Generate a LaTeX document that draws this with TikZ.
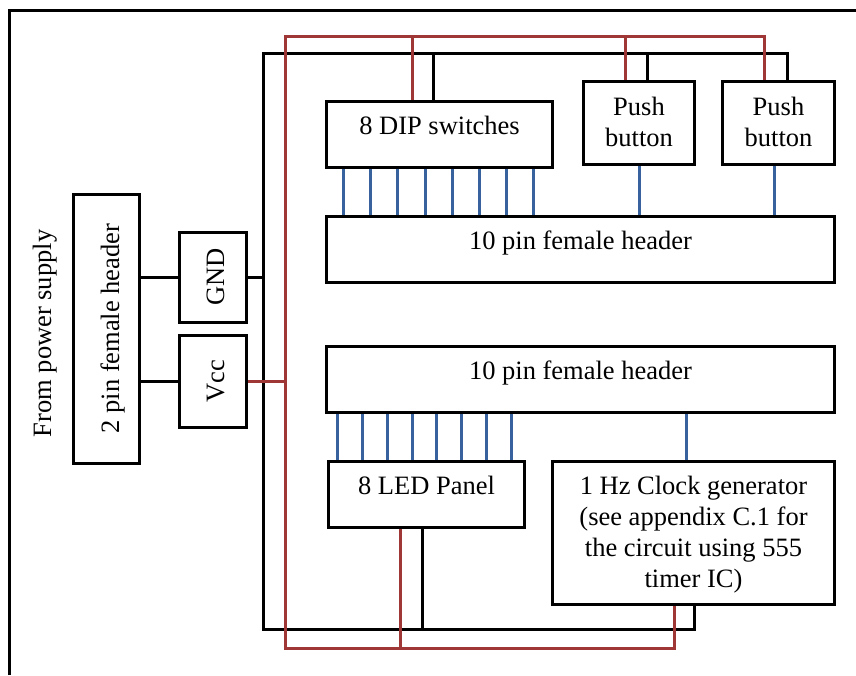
\documentclass[tikz,border=0pt]{standalone}
\usepackage{fontspec}
\setmainfont{Liberation Serif}
\definecolor{wirered}{RGB}{160,55,55}
\definecolor{wireblue}{RGB}{55,98,158}
\newcommand{\mlines}[1]{\begin{tabular}[t]{@{}c@{}}#1\end{tabular}}
\tikzset{
  blk/.style={line width=3pt, black},
  rw/.style={line width=3pt, wirered},
  pin/.style={line width=3pt, wireblue},
  box/.style={draw, line width=3pt, inner sep=0pt, fill=white, font=\fontsize{26.5}{31}\selectfont},
  lbl/.style={inner sep=0pt, font=\fontsize{26.5}{31}\selectfont},
}
\begin{document}
\begin{tikzpicture}[x=1pt,y=-1pt]
\useasboundingbox (0,0) rectangle (856,675);
% outer frame
\draw[line width=3pt] (9,675) -- (9,10) -- (856,10);

% left side
\node[lbl, rotate=90, anchor=base] (fps) at (51,333.5) {From power supply};
\node[box, rotate=90, minimum width=269pt, text height=46pt, text depth=20pt] (hdr) at (106,328.5) {2 pin female header};
\node[box, rotate=90, minimum width=90pt, text height=45pt, text depth=22pt] (gnd) at (212.5,277) {GND};
\node[box, rotate=90, minimum width=92pt, text height=45pt, text depth=22pt] (vcc) at (212.5,381) {Vcc};

% right side boxes
\node[box, anchor=north west, minimum width=226pt, text height=33pt, text depth=33pt] (dip) at (325,100) {8 DIP switches};
\node[box, anchor=north west, minimum width=111pt, text height=33.5pt, text depth=49.5pt] (pbA) at (582,80) {\mlines{Push\\button}};
\node[box, anchor=north west, minimum width=112pt, text height=33.5pt, text depth=49.5pt] (pbB) at (721,80) {\mlines{Push\\button}};
\node[box, anchor=north west, minimum width=508pt, text height=33pt, text depth=33pt] (hdrA) at (325,215) {10 pin female header};
\node[box, anchor=north west, minimum width=508pt, text height=33pt, text depth=33pt] (hdrB) at (325,345) {10 pin female header};
\node[box, anchor=north west, minimum width=196pt, text height=33pt, text depth=33pt] (led) at (327,460) {8 LED Panel};
\node[box, anchor=north west, minimum width=282pt, text height=33pt, text depth=110pt] (clk) at (551,460) {\mlines{1 Hz Clock generator\\(see appendix C.1 for\\the circuit using 555\\timer IC)}};

% bus coordinates
\coordinate (bTop) at (263,53);
\coordinate (bBot) at (263,629);
\coordinate (rTop) at (285,36);
\coordinate (rBot) at (285,648);

% attach points
\coordinate (kDip) at ([xshift=108pt]dip.north west);
\coordinate (kA) at ([xshift=65pt]pbA.north west);
\coordinate (kB) at ([xshift=66pt]pbB.north west);
\coordinate (kLed) at ([xshift=95pt]led.south west);
\coordinate (kClk) at ([xshift=143pt]clk.south west);
\coordinate (rDip) at ([xshift=87pt]dip.north west);
\coordinate (rA) at ([xshift=43pt]pbA.north west);
\coordinate (rB) at ([xshift=43pt]pbB.north west);
\coordinate (rLed) at ([xshift=73pt]led.south west);
\coordinate (rClk) at ([xshift=123pt]clk.south west);

% power connections (black)
\draw[blk] (hdr.south |- gnd.north) -- (gnd.north);
\draw[blk] (hdr.south |- vcc.north) -- (vcc.north);
\draw[blk] (gnd.south) -- (gnd.south -| bTop);

% ground bus (black)
\draw[blk] (kB) |- (bTop) -- (bBot) -| (kClk);
\draw[blk] (kA) -- (kA |- bTop);
\draw[blk] (kDip) -- (kDip |- bTop);
\draw[blk] (kLed) -- (kLed |- bBot);

% supply bus (red)
\draw[rw] (rB) |- (rTop) -- (rBot) -| (rClk);
\draw[rw] (rA) -- (rA |- rTop);
\draw[rw] (rDip) -- (rDip |- rTop);
\draw[rw] (rLed) -- (rLed |- rBot);
\draw[rw] (vcc.south) -- (vcc.south -| rTop);

% signal pins (blue)
\foreach \i in {0,...,7}{
  \coordinate (dp\i) at ([xshift={18.5pt+27.2pt*\i}]dip.south west);
  \draw[pin] (dp\i) -- (dp\i |- hdrA.north);
  \coordinate (lp\i) at ([xshift={10.6pt+24.8pt*\i}]led.north west);
  \draw[pin] (hdrB.south -| lp\i) -- (lp\i);
}
\coordinate (sA) at ([xshift=57pt]pbA.south west);
\coordinate (sB) at ([xshift=53.5pt]pbB.south west);
\coordinate (sClk) at ([xshift=135pt]clk.north west);
\draw[pin] (sA) -- (sA |- hdrA.north);
\draw[pin] (sB) -- (sB |- hdrA.north);
\draw[pin] (hdrB.south -| sClk) -- (sClk);
\end{tikzpicture}
\end{document}
